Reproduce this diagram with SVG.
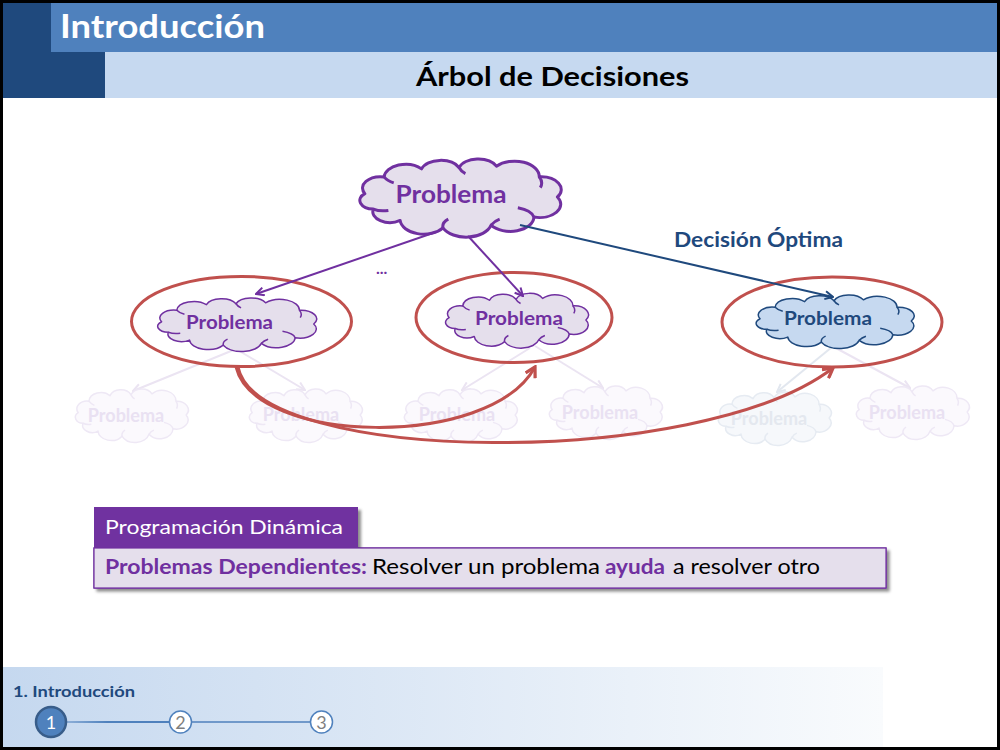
<svg xmlns="http://www.w3.org/2000/svg" xmlns:xlink="http://www.w3.org/1999/xlink" width="1000" height="750" viewBox="0 0 1000 750">
<style>
  .t{font-family:Lato,"Open Sans","Liberation Sans",sans-serif}
  .b{font-weight:bold}
  .cl path{vector-effect:non-scaling-stroke;stroke-linejoin:round}
  .purpleLine{stroke:#7030A0;stroke-width:2;fill:none}
  .blueLine{stroke:#1F497D;stroke-width:2;fill:none}
  .redCurve{stroke:#C0504D;stroke-width:3;fill:none}
  .redEll{stroke:#C0504D;stroke-width:3;fill:none}
  .fadeLine{stroke:#EBE4F2;stroke-width:2;fill:none}
  .fadeLineB{stroke:#E2E7EF;stroke-width:2;fill:none}
  .faded{fill:#FBF9FD;stroke:#EEE8F5;stroke-width:1.5}
  .fadedB{fill:#F6F8FB;stroke:#E6EBF2;stroke-width:1.5}
  .fadedTxt{fill:#E9E1F2;font-size:18px}
  .fadedTxtB{fill:#E4E8EF;font-size:18px}
</style>
<defs>
  <g id="cloud" class="cl">
    <path d="M -88 -5 A 17 17 0 0 1 -70 -30 A 20 20 0 0 1 -35 -42 A 19 19 0 0 1 0 -44 A 19 19 0 0 1 35 -46 A 23 23 0 0 1 75 -30 A 19 19 0 0 1 92 0 A 20 20 0 0 1 70 30 A 22 22 0 0 1 30 42 A 24 24 0 0 1 -15 46 A 22 22 0 0 1 -55 35 A 16 16 0 0 1 -80 18 A 13 13 0 0 1 -88 -5 Z"/>
    <path fill="none" d="M -80 18 Q -74 22 -66 20 M -15 46 Q -16 38 -10 33 M 70 30 Q 68 20 55 16 M 75 -30 Q 79 -22 76 -14 M 0 -44 Q 2 -38 6 -35 M -70 -30 Q -67 -24 -61 -21 M 30 42 Q 33 36 38 33"/>
  </g>
  <marker id="arrP" viewBox="0 0 10 10" refX="9" refY="5" markerWidth="10" markerHeight="10" markerUnits="userSpaceOnUse" orient="auto">
    <path d="M1 1 L9 5 L1 9" fill="none" stroke="#7030A0" stroke-width="2"/>
  </marker>
  <marker id="arrB" viewBox="0 0 10 10" refX="9" refY="5" markerWidth="10" markerHeight="10" markerUnits="userSpaceOnUse" orient="auto">
    <path d="M1 1 L9 5 L1 9" fill="none" stroke="#1F497D" stroke-width="2"/>
  </marker>
  <marker id="arrR" viewBox="0 0 12 12" refX="10" refY="6" markerWidth="13" markerHeight="13" markerUnits="userSpaceOnUse" orient="auto">
    <path d="M1 1 L10 6 L1 11" fill="none" stroke="#C0504D" stroke-width="3"/>
  </marker>
  <marker id="arrF" viewBox="0 0 10 10" refX="9" refY="5" markerWidth="10" markerHeight="10" markerUnits="userSpaceOnUse" orient="auto">
    <path d="M1 1 L9 5 L1 9" fill="none" stroke="#EBE4F2" stroke-width="2"/>
  </marker>
  <marker id="arrFB" viewBox="0 0 10 10" refX="9" refY="5" markerWidth="10" markerHeight="10" markerUnits="userSpaceOnUse" orient="auto">
    <path d="M1 1 L9 5 L1 9" fill="none" stroke="#E2E7EF" stroke-width="2"/>
  </marker>
  <linearGradient id="footG" x1="0" y1="0" x2="1" y2="0">
    <stop offset="0" stop-color="#C5D8EF"/>
    <stop offset="1" stop-color="#F9FBFD"/>
  </linearGradient>
  <linearGradient id="lineG" gradientUnits="userSpaceOnUse" x1="66" y1="0" x2="169" y2="0">
    <stop offset="0" stop-color="#8FB0D8"/>
    <stop offset="0.4" stop-color="#4F81BD"/>
    <stop offset="1" stop-color="#4F81BD"/>
  </linearGradient>
  <filter id="sh" x="-5%" y="-20%" width="115%" height="160%">
    <feDropShadow dx="3" dy="3" stdDeviation="1.5" flood-color="#000" flood-opacity="0.45"/>
  </filter>
</defs>

<!-- frame -->
<rect x="0" y="0" width="1000" height="750" fill="#000"/>
<rect x="3" y="3" width="994" height="744" fill="#fff"/>

<!-- header -->
<g id="header">
  <rect x="3" y="3" width="994" height="49" fill="#4F81BD"/>
  <rect x="105" y="52" width="892" height="46" fill="#C6D9F0"/>
  <rect x="3" y="3" width="48" height="95" fill="#1F497D"/>
  <rect x="3" y="52" width="102" height="46" fill="#1F497D"/>
  <text class="t b" x="60" y="38" font-size="32" fill="#fff" textLength="205" lengthAdjust="spacingAndGlyphs">Introducción</text>
  <text class="t b" x="416" y="86" font-size="26" fill="#000" textLength="273" lengthAdjust="spacingAndGlyphs">Árbol de Decisiones</text>
</g>

<!-- faded subtree -->
<g id="faded-lines">
  <path class="fadeLine" d="M236 349 L133 391" marker-end="url(#arrF)"/>
  <path class="fadeLine" d="M236 349 L305 390" marker-end="url(#arrF)"/>
  <path class="fadeLine" d="M530 348 L462 390" marker-end="url(#arrF)"/>
  <path class="fadeLine" d="M535 346 L603 388" marker-end="url(#arrF)"/>
  <path class="fadeLineB" d="M832 347 L777 392" marker-end="url(#arrFB)"/>
  <path class="fadeLine" d="M834 347 L910 388" marker-end="url(#arrF)"/>
</g>
<g id="faded1"><use xlink:href="#cloud" class="faded" transform="translate(131 415) scale(0.6 0.46)"/><text class="t b fadedTxt" x="126" y="422" text-anchor="middle">Problema</text></g>
<g id="faded2"><use xlink:href="#cloud" class="faded" transform="translate(305 415) scale(0.6 0.46)"/><text class="t b fadedTxt" x="301" y="421" text-anchor="middle">Problema</text></g>
<g id="faded3"><use xlink:href="#cloud" class="faded" transform="translate(460 415) scale(0.6 0.46)"/><text class="t b fadedTxt" x="457" y="421" text-anchor="middle">Problema</text></g>
<g id="faded4"><use xlink:href="#cloud" class="faded" transform="translate(605 412) scale(0.6 0.46)"/><text class="t b fadedTxt" x="600" y="419" text-anchor="middle">Problema</text></g>
<g id="faded5"><use xlink:href="#cloud" class="fadedB" transform="translate(774 418) scale(0.6 0.46)"/><text class="t b fadedTxtB" x="769" y="425" text-anchor="middle">Problema</text></g>
<g id="faded6"><use xlink:href="#cloud" class="faded" transform="translate(912 412) scale(0.6 0.46)"/><text class="t b fadedTxt" x="907" y="419" text-anchor="middle">Problema</text></g>

<!-- main nodes -->
<g id="root">
  <use xlink:href="#cloud" fill="#E5DFEC" stroke="#7030A0" stroke-width="3" transform="translate(459 197) scale(1.07 0.67)"/>
  <text class="t b" x="451" y="203" font-size="24" fill="#7030A0" text-anchor="middle" textLength="111" lengthAdjust="spacingAndGlyphs">Problema</text>
</g>
<g id="child-left">
  <use xlink:href="#cloud" fill="#E5DFEC" stroke="#7030A0" stroke-width="1.5" transform="translate(236 324) scale(0.845 0.46)"/>
  <text class="t b" x="229.5" y="329" font-size="18" fill="#7030A0" text-anchor="middle" textLength="87" lengthAdjust="spacingAndGlyphs">Problema</text>
</g>
<g id="child-mid">
  <use xlink:href="#cloud" fill="#E5DFEC" stroke="#7030A0" stroke-width="1.5" transform="translate(516 320) scale(0.76 0.47)"/>
  <text class="t b" x="519" y="325" font-size="18" fill="#7030A0" text-anchor="middle" textLength="88" lengthAdjust="spacingAndGlyphs">Problema</text>
</g>
<g id="child-right">
  <use xlink:href="#cloud" fill="#C6D9F0" stroke="#1F497D" stroke-width="1.5" transform="translate(834 321) scale(0.84 0.46)"/>
  <text class="t b" x="828" y="325" font-size="18" fill="#1F497D" text-anchor="middle" textLength="88" lengthAdjust="spacingAndGlyphs">Problema</text>
</g>

<!-- subproblem groupings -->
<g id="groups">
  <ellipse class="redEll" cx="241.5" cy="321.5" rx="110" ry="45"/>
  <ellipse class="redEll" cx="514" cy="317.5" rx="98" ry="45"/>
  <ellipse class="redEll" cx="832" cy="322" rx="110" ry="45"/>
</g>

<!-- connectors -->
<g id="connectors">
  <path class="purpleLine" d="M436 232 L256 294" marker-end="url(#arrP)"/>
  <path class="purpleLine" d="M468 236 L523 296" marker-end="url(#arrP)"/>
  <path class="blueLine" d="M520 225 L833 297" marker-end="url(#arrB)"/>
  <path class="redCurve" d="M236 367 C 255 445, 490 450, 535 367" marker-end="url(#arrR)"/>
  <path class="redCurve" d="M238 367 C 258 465, 700 470, 833 368" marker-end="url(#arrR)"/>
  <text class="t b" x="376" y="274" font-size="16" fill="#7030A0">...</text>
  <text class="t b" x="674" y="247" font-size="21" fill="#1F497D" textLength="169" lengthAdjust="spacingAndGlyphs">Decisión Óptima</text>
</g>

<!-- definition box -->
<g id="definition">
  <rect x="94" y="548" width="792" height="40" fill="#E5DFEC" stroke="#7030A0" stroke-width="1.2" filter="url(#sh)"/>
  <rect x="94" y="507" width="264" height="41" fill="#7030A0" filter="url(#sh)"/>
  <rect x="94" y="548" width="792" height="40" fill="#E5DFEC" stroke="#7030A0" stroke-width="1.2"/>
  <text class="t" x="105" y="534" font-size="20" fill="#fff" textLength="238" lengthAdjust="spacingAndGlyphs">Programación Dinámica</text>
  <text class="t b" x="105" y="574" font-size="21" fill="#7030A0" textLength="262" lengthAdjust="spacingAndGlyphs">Problemas Dependientes:</text>
  <text class="t" x="372" y="574" font-size="21" fill="#000" textLength="228" lengthAdjust="spacingAndGlyphs">Resolver un problema</text>
  <text class="t b" x="605" y="574" font-size="21" fill="#7030A0" textLength="60" lengthAdjust="spacingAndGlyphs">ayuda</text>
  <text class="t" x="673" y="574" font-size="21" fill="#000" textLength="147" lengthAdjust="spacingAndGlyphs">a resolver otro</text>
</g>

<!-- footer -->
<g id="footer">
  <rect x="3" y="667" width="880" height="80" fill="url(#footG)"/>
  <text class="t b" x="13" y="697" font-size="15" fill="#1F497D" textLength="122" lengthAdjust="spacingAndGlyphs">1. Introducción</text>
  <line x1="66" y1="722" x2="169" y2="722" stroke="url(#lineG)" stroke-width="2"/>
  <line x1="192" y1="722" x2="310" y2="722" stroke="#4F81BD" stroke-width="1.5"/>
  <g id="step1"><circle cx="51" cy="722" r="15" fill="#4F81BD" stroke="#385D8A" stroke-width="2.5"/><text class="t" x="51" y="729" font-size="18" fill="#fff" text-anchor="middle">1</text></g>
  <g id="step2"><circle cx="180.5" cy="722" r="11" fill="#fff" stroke="#4F81BD" stroke-width="1.5"/><text class="t" x="180.5" y="729" font-size="18" fill="#7F7F7F" text-anchor="middle">2</text></g>
  <g id="step3"><circle cx="321.5" cy="722" r="11" fill="#fff" stroke="#4F81BD" stroke-width="1.5"/><text class="t" x="321.5" y="729" font-size="18" fill="#7F7F7F" text-anchor="middle">3</text></g>
</g>
</svg>
